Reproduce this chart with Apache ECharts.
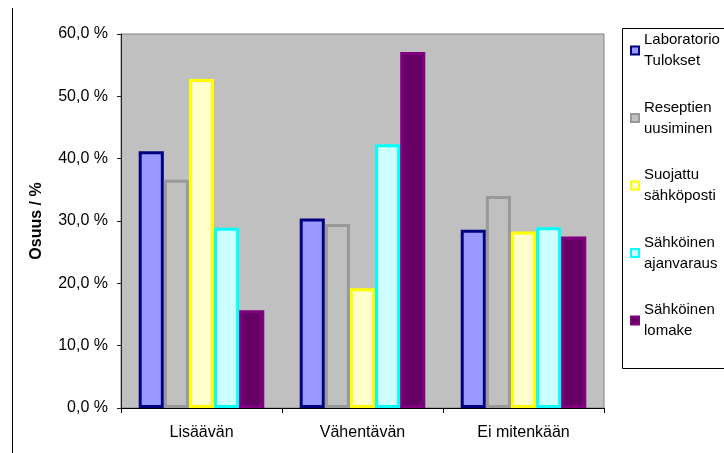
<!DOCTYPE html>
<html>
<head>
<meta charset="utf-8">
<script src="https://cdn.jsdelivr.net/npm/echarts@6/dist/echarts.min.js"></script>
<style>
  html, body { margin: 0; padding: 0; background: #ffffff; }
  #chart { width: 724px; height: 453px; }
</style>
</head>
<body>
<div id="chart"></div>
<script>
// Categories on the x axis
const categories = ['Lisäävän', 'Vähentävän', 'Ei mitenkään'];

// Share (%) per service, one array per series
const laboratorio = [41.2, 30.4, 28.6];
const reseptit    = [36.6, 29.5, 34.0];
const suojattu    = [52.8, 19.2, 28.3];
const ajanvaraus  = [28.9, 42.3, 29.0];
const lomake      = [15.7, 57.1, 27.5];

// Series names as shown in the legend
const seriesNames = [
  'Laboratorio\nTulokset',
  'Reseptien\nuusiminen',
  'Suojattu\nsähköposti',
  'Sähköinen\najanvaraus',
  'Sähköinen\nlomake'
];

const seriesValues = [laboratorio, reseptit, suojattu, ajanvaraus, lomake];
const fills   = ['#9999ff', '#c0c0c0', '#ffffcc', '#ccffff', '#660066'];
const borders = ['#000080', '#999999', '#ffff00', '#00ffff', '#800080'];

const font = 'Liberation Sans, Arial, sans-serif';

const chart = echarts.init(document.getElementById('chart'), null, { renderer: 'canvas' });

chart.setOption({
  animation: false,
  backgroundColor: '#ffffff',
  textStyle: { fontFamily: font },
  grid: {
    left: 121, right: 120, top: 34, bottom: 45,
    show: true,
    backgroundColor: '#c0c0c0',
    borderColor: '#808080',
    borderWidth: 1
  },
  legend: {
    orient: 'vertical',
    left: 630,
    top: 19,
    padding: 0,
    itemGap: 4.5,
    itemWidth: 8,
    itemHeight: 8,
    icon: 'rect',
    itemStyle: { borderWidth: 2 },
    textStyle: {
      fontFamily: font,
      fontSize: 15,
      color: '#000000',
      lineHeight: 21,
      padding: [21, 0, 0, 0]
    },
    data: seriesNames
  },
  xAxis: {
    type: 'category',
    data: categories,
    axisLine: { show: true, lineStyle: { color: '#000000', width: 1 } },
    axisTick: { show: true, length: 5, lineStyle: { color: '#000000' } },
    axisLabel: { fontFamily: font, fontSize: 16, color: '#000000', margin: 17 },
    splitLine: { show: false }
  },
  yAxis: {
    type: 'value',
    min: 0,
    max: 60,
    interval: 10,
    name: 'Osuus / %',
    nameLocation: 'middle',
    nameGap: 76,
    nameRotate: 90,
    nameTextStyle: { fontFamily: font, fontSize: 16, fontWeight: 'bold', color: '#000000' },
    axisLine: { show: true, lineStyle: { color: '#222222', width: 1 } },
    axisTick: { show: true, length: 4, lineStyle: { color: '#222222' } },
    axisLabel: {
      fontFamily: font, fontSize: 16, color: '#000000', margin: 13,
      formatter: v => v.toFixed(1).replace('.', ',') + ' %'
    },
    splitLine: { show: false }
  },
  series: seriesNames.map((name, i) => ({
    name: name,
    type: 'bar',
    data: seriesValues[i],
    barGap: '0%',
    barCategoryGap: '22%',
    itemStyle: { color: fills[i], borderColor: borders[i], borderWidth: 3 }
  })),
  graphic: [
    {
      type: 'line',
      shape: { x1: 12.5, y1: 8, x2: 12.5, y2: 453 },
      style: { stroke: '#000000', lineWidth: 1 },
      silent: true
    },
    {
      type: 'rect',
      shape: { x: 622.5, y: 28.5, width: 130, height: 340 },
      style: { fill: 'none', stroke: '#000000', lineWidth: 1 },
      silent: true,
      z: -1
    }
  ]
});
</script>
</body>
</html>
